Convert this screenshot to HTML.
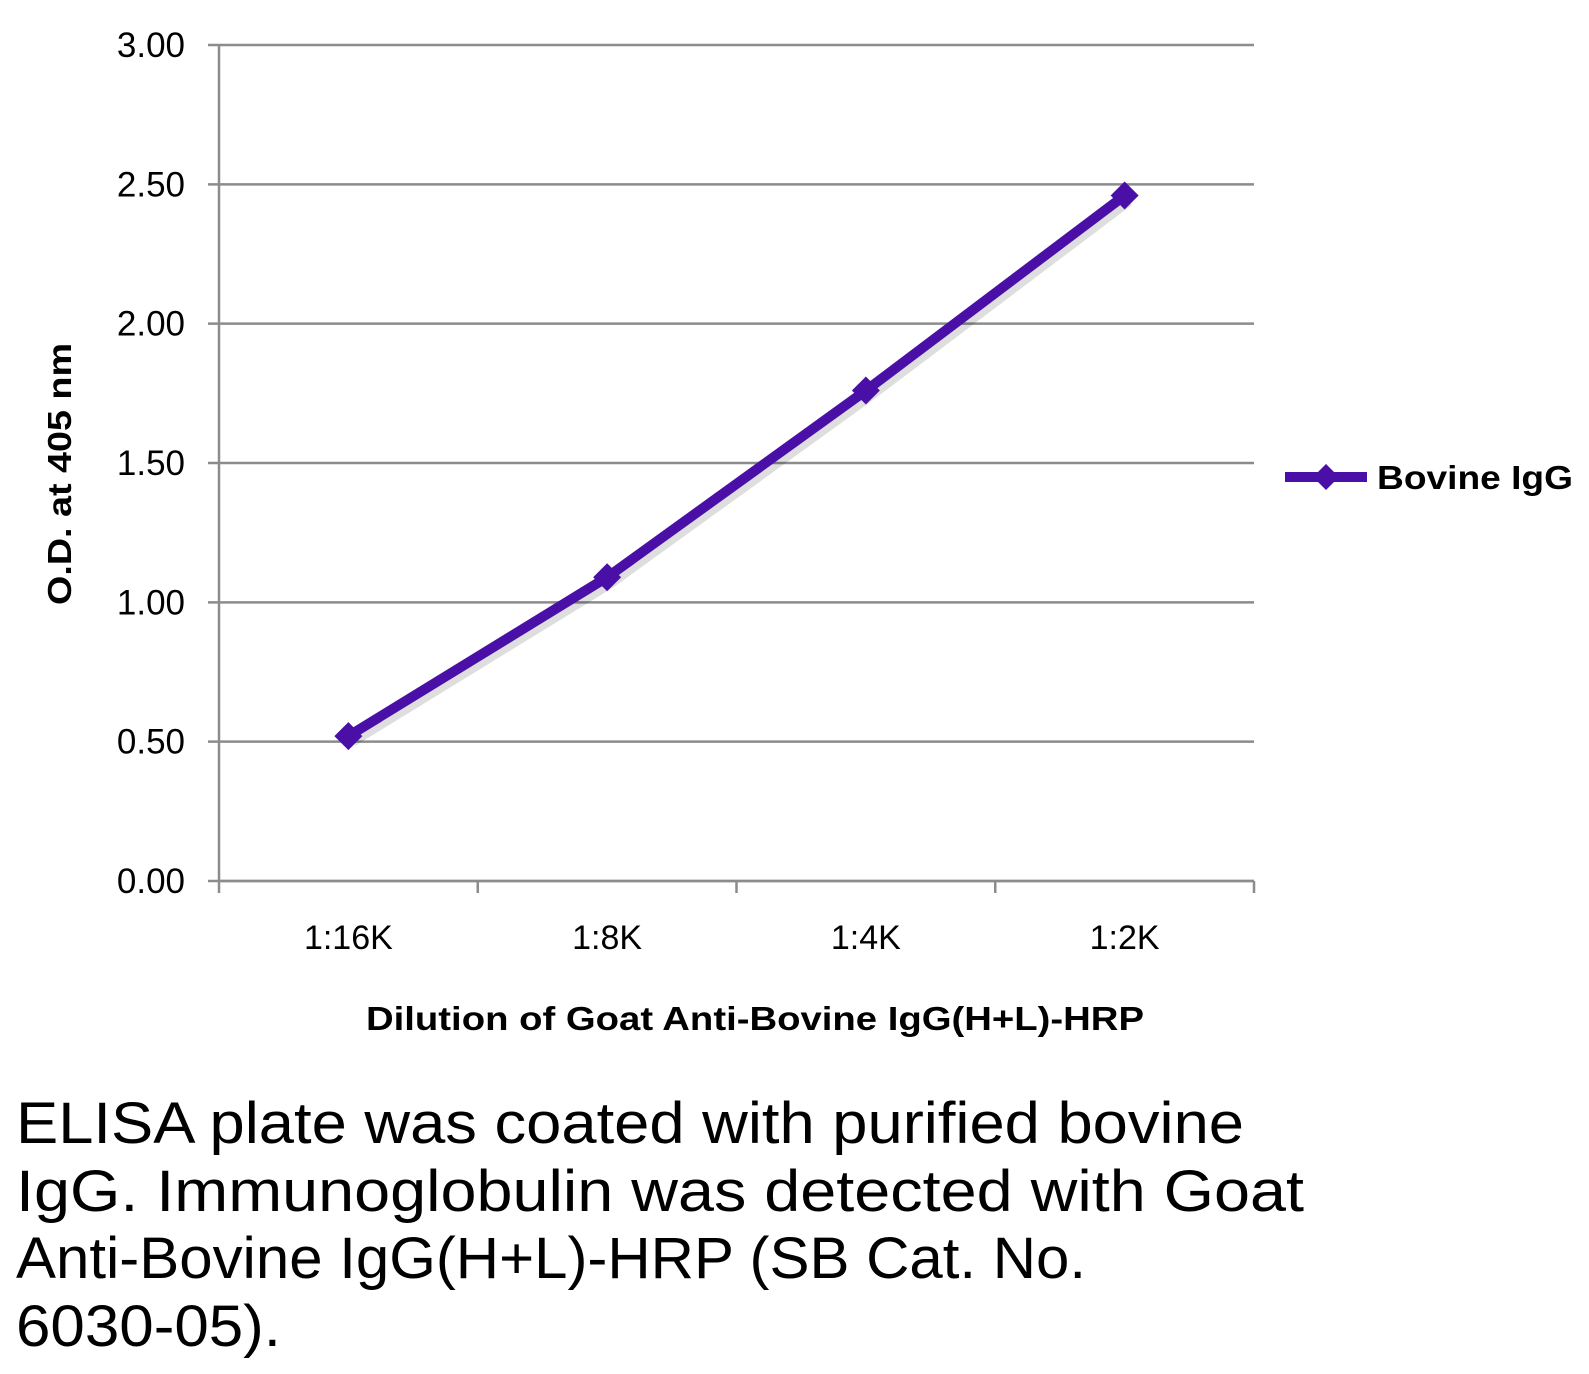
<!DOCTYPE html>
<html><head><meta charset="utf-8"><style>
html,body{margin:0;padding:0;background:#fff;}
svg{display:block;font-family:"Liberation Sans",sans-serif;}
</style></head><body>
<svg id="chart" width="1589" height="1374" viewBox="0 0 1589 1374">
<g id="grid"></g>
<g id="axes"></g>
<g id="series"></g>
<text x="71" y="474" transform="rotate(-90 71 474)" text-anchor="middle" font-size="33" font-weight="bold" textLength="262" lengthAdjust="spacingAndGlyphs">O.D. at 405 nm</text>
<text x="755" y="1030" text-anchor="middle" font-size="33" font-weight="bold" textLength="778" lengthAdjust="spacingAndGlyphs">Dilution of Goat Anti-Bovine IgG(H+L)-HRP</text>
<g>
<line x1="1285" y1="477" x2="1367" y2="477" stroke="#4a0fa6" stroke-width="10"/>
<path d="M1326 464 L1339 477 L1326 490 L1313 477 Z" fill="#4a0fa6"/>
<text x="1377" y="489" font-size="33" font-weight="bold" textLength="196" lengthAdjust="spacingAndGlyphs">Bovine IgG</text>
</g>
<g font-size="58">
<text x="16" y="1143" textLength="1228" lengthAdjust="spacingAndGlyphs">ELISA plate was coated with purified bovine</text>
<text x="16" y="1211" textLength="1288" lengthAdjust="spacingAndGlyphs">IgG.  Immunoglobulin was detected with Goat</text>
<text x="16" y="1278" textLength="1070" lengthAdjust="spacingAndGlyphs">Anti-Bovine IgG(H+L)-HRP (SB Cat. No.</text>
<text x="16" y="1346" textLength="265" lengthAdjust="spacingAndGlyphs">6030-05).</text>
</g>
</svg>
<script>
const categories = ["1:16K","1:8K","1:4K","1:2K"];
const values = [0.52, 1.09, 1.76, 2.46];
const yTicks = [0, 0.5, 1, 1.5, 2, 2.5, 3];
const yTickLabels = ["0.00","0.50","1.00","1.50","2.00","2.50","3.00"];

const X0 = 219, X1 = 1254, Y0 = 881, Y1 = 45, YMAX = 3;
const ns = "http://www.w3.org/2000/svg";
const bw = (X1 - X0) / categories.length;
const xs = i => X0 + bw * (i + 0.5);
const ys = v => Y0 - (v / YMAX) * (Y0 - Y1);
function mk(tag, attrs, parent) {
  const e = document.createElementNS(ns, tag);
  for (const k in attrs) e.setAttribute(k, attrs[k]);
  parent.appendChild(e);
  return e;
}
const grid = document.getElementById('grid');
const axes = document.getElementById('axes');
const series = document.getElementById('series');
yTicks.forEach((t, i) => {
  const y = ys(t);
  const l = mk('line', {x1: 208, x2: X1, y1: y, y2: y, stroke: '#8c8c8c', 'stroke-width': 2.5}, grid);
  
  
  const tx = mk('text', {x: 185, y: y + 12, 'text-anchor': 'end', 'font-size': 35}, axes);
  tx.textContent = yTickLabels[i];
  
  
});
const ya = mk('line', {x1: X0, x2: X0, y1: Y1, y2: Y0, stroke: '#8c8c8c', 'stroke-width': 2.5}, axes);


const xa = mk('line', {x1: X0, x2: X1, y1: Y0, y2: Y0, stroke: '#8c8c8c', 'stroke-width': 2.5}, axes);


for (let i = 0; i <= categories.length; i++) {
  const x = X0 + bw * i;
  const tk = mk('line', {x1: x, x2: x, y1: Y0, y2: Y0 + 12, stroke: '#8c8c8c', 'stroke-width': 2.5}, axes);
  
  
}
categories.forEach((c, i) => {
  const tx = mk('text', {x: xs(i), y: 949, 'text-anchor': 'middle', 'font-size': 34}, axes);
  tx.textContent = c;
  
  
});
const pts = values.map((v, i) => xs(i) + ',' + ys(v)).join(' ');
const sh = mk('polyline', {points: values.map((v, i) => (xs(i)+4) + ',' + (ys(v)+5)).join(' '), fill: 'none', stroke: 'rgba(0,0,0,0.13)', 'stroke-width': 11}, series);


const pl = mk('polyline', {points: pts, fill: 'none', stroke: '#4a0fa6', 'stroke-width': 10, 'stroke-linejoin': 'round'}, series);


values.forEach((v, i) => {
  const x = xs(i), y = ys(v);
  const m = mk('path', {d: `M${x} ${y-14} L${x+14} ${y} L${x} ${y+14} L${x-14} ${y} Z`, fill: '#4a0fa6'}, series);
  
  
});
</script>
</body></html>
